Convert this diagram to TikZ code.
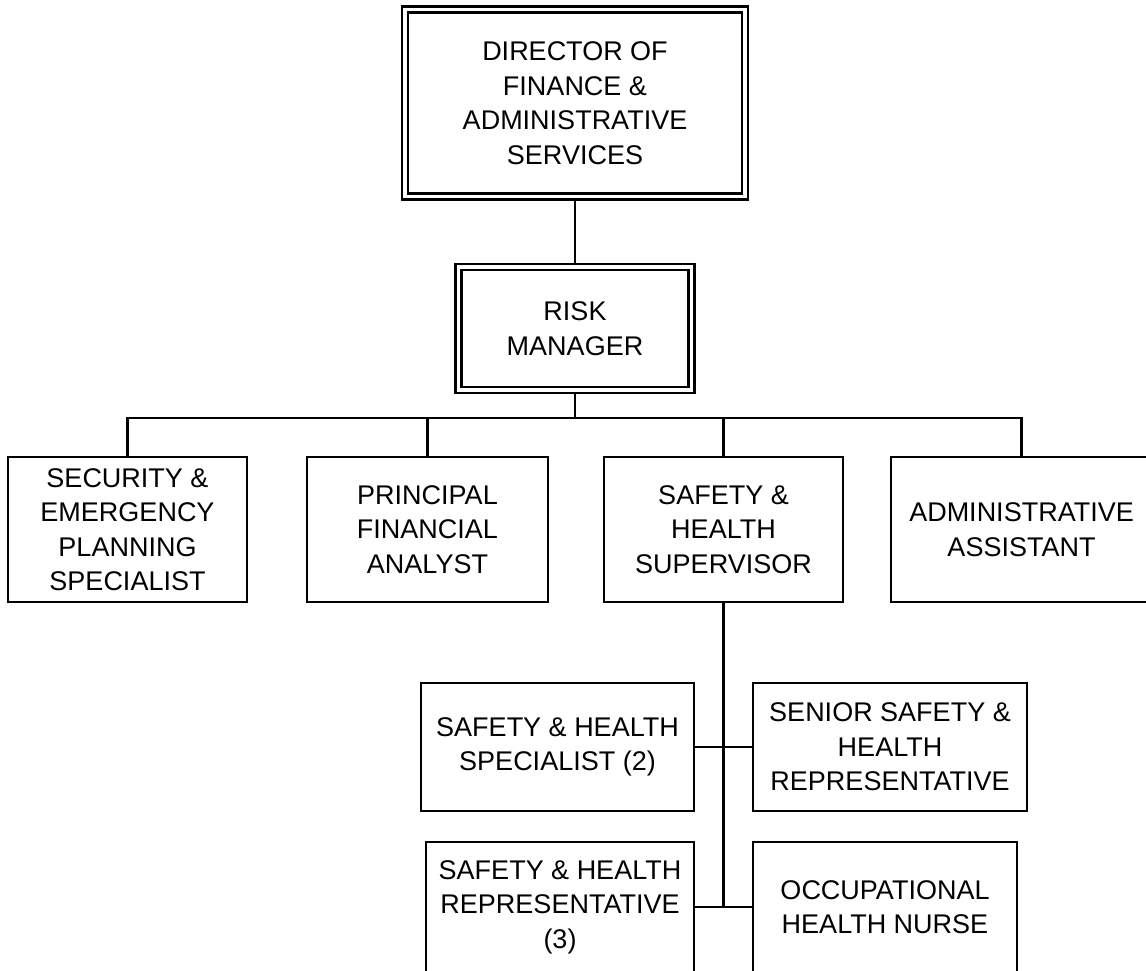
\documentclass[tikz,border=0pt]{standalone}
\usepackage{fontspec}
\setmainfont{Liberation Sans}
\begin{document}
\begin{tikzpicture}[x=1pt,y=-1pt,
  line width=2.4pt,
  orgbox/.style={draw, rectangle, inner sep=0pt, align=center,
    font=\fontsize{27}{34.5}\selectfont},
  headbox/.style={orgbox, double, double distance=3.6pt, outer sep=4.2pt}]
\useasboundingbox (0,0) rectangle (1146,971);
\clip (0,0) rectangle (1146,971);

% top of the chart
\node[headbox, minimum width=340pt, minimum height=187pt] (dir) at (575,103)
  {DIRECTOR OF\\FINANCE \&\\ADMINISTRATIVE\\SERVICES};
\node[headbox, minimum width=233pt, minimum height=123pt] (risk) at (575,328.5)
  {RISK\\MANAGER};

% staff reporting to the risk manager
\node[orgbox, minimum width=239pt, minimum height=145pt] (sec) at (127.5,529.5)
  {SECURITY \&\\EMERGENCY\\PLANNING\\SPECIALIST};
\node[orgbox, minimum width=241pt, minimum height=145pt] (pfa) at (427.5,529.5)
  {PRINCIPAL\\FINANCIAL\\ANALYST};
\node[orgbox, minimum width=239pt, minimum height=145pt] (shs) at (723.5,529.5)
  {SAFETY \&\\HEALTH\\SUPERVISOR};
\node[orgbox, minimum width=261pt, minimum height=145pt] (adm) at (1021.5,529.5)
  {ADMINISTRATIVE\\ASSISTANT};

% safety and health unit
\node[orgbox, minimum width=273pt, minimum height=128pt] (spec) at (557.5,747)
  {SAFETY \& HEALTH\\SPECIALIST (2)};
\node[orgbox, minimum width=274pt, minimum height=128pt] (senior) at (890,747)
  {SENIOR SAFETY \&\\HEALTH\\REPRESENTATIVE};
\node[orgbox, minimum width=268pt, minimum height=130pt] (rep) at (560,907)
  {SAFETY \& HEALTH\\REPRESENTATIVE\\(3)};
\node[orgbox, minimum width=264pt, minimum height=130pt] (occ) at (885,907)
  {OCCUPATIONAL\\HEALTH NURSE};

% connectors
\coordinate (bus) at (575,418);
\draw (dir.south) -- (risk.north);
\draw (risk.south) -- (bus);
\draw (sec.north) |- (bus) -| (adm.north);
\draw (pfa.north) -- (pfa.north |- bus);
\draw (shs.north) -- (shs.north |- bus);

\coordinate (trunkend) at (shs.south |- rep.east);
\draw (shs.south) -- (trunkend);
\draw (spec.east) -- (senior.west);
\draw (rep.east) -- (occ.west);
\end{tikzpicture}
\end{document}
